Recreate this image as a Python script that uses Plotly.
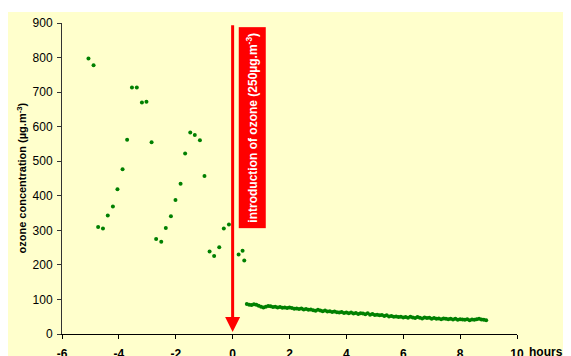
import plotly.graph_objects as go

# Before ozone introduction (hours, µg.m-3)
pre_hours = [-5.07, -4.89, -4.73, -4.56, -4.39, -4.21, -4.05, -3.87, -3.71, -3.54,
             -3.37, -3.19, -3.03, -2.85, -2.69, -2.51, -2.35, -2.17, -2.01, -1.83,
             -1.67, -1.49, -1.33, -1.15, -0.99, -0.81, -0.65, -0.47, -0.31, -0.13,
             0.21, 0.35, 0.41]
pre_ozone = [797, 778, 310, 305, 343, 369, 419, 477, 562, 713,
             713, 670, 672, 555, 275, 267, 307, 341, 388, 435,
             522, 583, 576, 561, 457, 239, 226, 251, 305, 317,
             230, 241, 213]

# After introduction: readings every 5 minutes
post_minutes = [30, 35, 40, 45, 50, 55, 60, 65, 70, 75, 80, 85, 90, 95, 100, 105, 110, 115,
                120, 125, 130, 135, 140, 145, 150, 155, 160, 165, 170, 175, 180, 185, 190,
                195, 200, 205, 210, 215, 220, 225, 230, 235, 240, 245, 250, 255, 260, 265,
                270, 275, 280, 285, 290, 295, 300, 305, 310, 315, 320, 325, 330, 335, 340,
                345, 350, 355, 360, 365, 370, 375, 380, 385, 390, 395, 400, 405, 410, 415,
                420, 425, 430, 435, 440, 445, 450, 455, 460, 465, 470, 475, 480, 485, 490,
                495, 500, 505, 510, 515, 520, 525, 530, 535]
post_ozone = [87, 85, 84, 86, 85, 82, 79,
              77, 79, 81, 80, 78, 79,
              77, 78, 76, 77, 75, 77,
              75, 73, 74, 72, 74, 71,
              72, 70, 71, 69, 67, 70,
              68, 66, 68, 65, 66, 64,
              65, 63, 62, 64, 61, 62,
              60, 62, 59, 61, 58, 60,
              59, 57, 60, 56, 58, 55,
              56, 54, 55, 52, 54, 51,
              52, 50, 51, 49, 50, 48,
              49, 47, 50, 48, 46, 49,
              47, 45, 48, 46, 47, 44,
              46, 44, 45, 43, 45, 44,
              43, 44, 42, 44, 41, 43,
              42, 41, 43, 40, 42, 41,
              43, 44, 42, 41, 40]
post_hours = [m / 60 for m in post_minutes]

x_ticks = [-6, -4, -2, 0, 2, 4, 6, 8, 10]
y_ticks = [0, 100, 200, 300, 400, 500, 600, 700, 800, 900]

FONT = "Liberation Sans, Arial, sans-serif"
GREEN = "#008000"
YELLOW = "#FFFFCC"

fig = go.Figure()
fig.add_trace(go.Scatter(x=pre_hours, y=pre_ozone, mode="markers",
                         marker=dict(color=GREEN, size=4), showlegend=False))
fig.add_trace(go.Scatter(x=post_hours, y=post_ozone, mode="markers",
                         marker=dict(color=GREEN, size=4), showlegend=False))

# page body has an 8px margin, so the figure is sized to fill the remaining window
W, H = 563, 348
L, R, T, B = 54, 54, 15, 22
pw, ph = W - L - R, H - T - B

fig.update_layout(
    width=W, height=H,
    margin=dict(l=L, r=R, t=T, b=B, pad=0),
    paper_bgcolor=YELLOW, plot_bgcolor=YELLOW,
    font=dict(family=FONT, size=12, color="#000000"),
    showlegend=False,
    xaxis=dict(range=[-6, 10], tickvals=x_ticks, ticktext=[f"<b>{v}</b>" for v in x_ticks],
               showgrid=False, zeroline=False, showline=True, linecolor="#000000",
               linewidth=1, ticks="outside", ticklen=4, tickcolor="#000000",
               automargin=False,
               tickfont=dict(family=FONT, size=12, color="#000000"), ticklabelstandoff=5),
    yaxis=dict(range=[0, 900], tickvals=y_ticks, showgrid=False, zeroline=False,
               showline=True, linecolor="#333333", linewidth=1, ticks="outside",
               ticklen=4, tickcolor="#333333", automargin=False, ticklabelstandoff=2,
               tickfont=dict(family=FONT, size=12, color="#000000")),
    shapes=[
        dict(type="rect", xref="paper", yref="paper", x0=-0.2, x1=1.2,
             y0=1 + (T - 4) / ph, y1=1.2, fillcolor="white", line=dict(width=0),
             layer="below"),
    ],
)

# y-axis title
fig.add_annotation(xref="paper", yref="paper", x=(13 - L) / pw, y=0.5,
                   xanchor="center", yanchor="middle",
                   text="<b>ozone concentration (µg.m<sup>-3</sup>)</b>", textangle=-90,
                   showarrow=False, font=dict(family=FONT, size=11, color="#000000"))
# "hours" label
fig.add_annotation(xref="paper", yref="paper", x=(538 - L) / pw, y=-(344 - (T + ph)) / ph,
                   xanchor="center", yanchor="middle",
                   text="<b>hours</b>", showarrow=False,
                   font=dict(family=FONT, size=12, color="#000000"))
# red arrow
fig.add_annotation(x=0, y=6, ax=0, ay=898, xref="x", yref="y", axref="x", ayref="y",
                   text="", showarrow=True, arrowhead=2, arrowsize=1, arrowwidth=3,
                   arrowcolor="#FF0000")
# red label box
fig.add_annotation(x=0.68, y=597, xref="x", yref="y",
                   xanchor="center", yanchor="middle",
                   text="<b>introduction of ozone (250µg.m<sup>-3</sup>)</b>",
                   textangle=-90, showarrow=False, bgcolor="#FF0000", borderpad=5,
                   font=dict(family=FONT, size=12, color="#FFFFFF"))

fig.write_html("out.html")
